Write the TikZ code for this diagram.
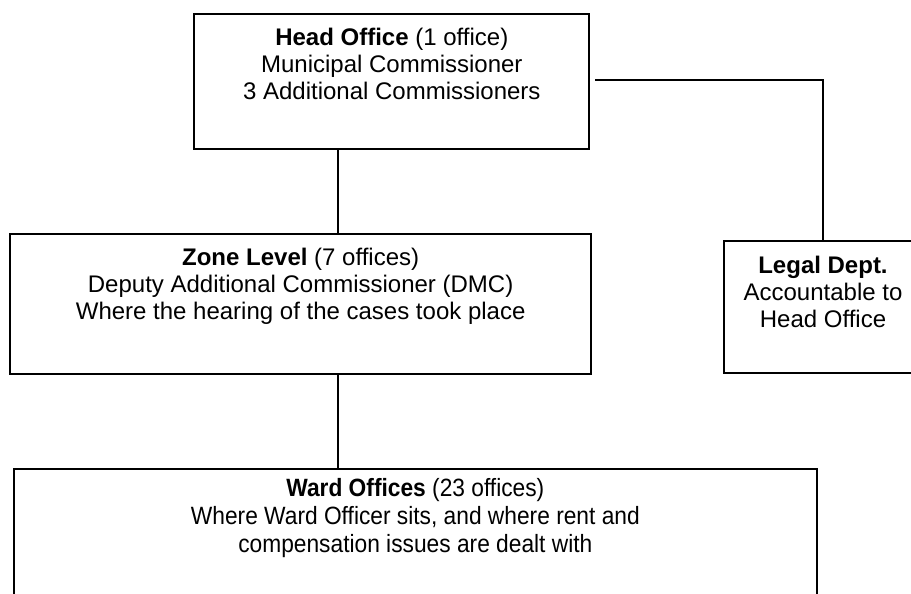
\documentclass[tikz,border=0pt]{standalone}
\usepackage{fontspec}
\setmainfont{Liberation Sans}
\begin{document}
\begin{tikzpicture}[x=1pt,y=-1pt,
  box/.style={draw, line width=2pt, inner sep=0pt, anchor=north west,
    font=\fontsize{24}{27}\selectfont},
  wardfont/.style={font=\fontsize{25}{28}\selectfont\addfontfeature{FakeStretch=0.91}},
  conn/.style={line width=2pt}]
\useasboundingbox (0,0) rectangle (911,594);
\clip (0,0) rectangle (911,594);
\node[box] (head) at (193.3,12.7) {\parbox[c][135.6pt][t]{395pt}{\centering\rule{0pt}{32pt}\textbf{Head Office} (1 office)\\Municipal Commissioner\\3 Additional Commissioners}};
\node[box] (zone) at (9.3,232.7) {\parbox[c][140pt][t]{580.7pt}{\centering\rule{0pt}{32pt}\textbf{Zone Level} (7 offices)\\Deputy Additional Commissioner (DMC)\\Where the hearing of the cases took place}};
\node[box] (legal) at (723,240) {\parbox[c][131.7pt][t]{198pt}{\centering\rule{0pt}{32pt}\textbf{Legal Dept.}\\Accountable to\\Head Office}};
\node[box, wardfont] (ward) at (12.7,468) {\parbox[c][150pt][t]{803.3pt}{\centering\rule{0pt}{27pt}\textbf{Ward Offices} (23 offices)\\Where Ward Officer sits, and where rent and\\compensation issues are dealt with}};
\draw[conn] ([xshift=144.4pt]head.south west) -- ([xshift=328.4pt]zone.north west);
\draw[conn] ([xshift=328.4pt]zone.south west) -- ([xshift=325pt]ward.north west);
\draw[conn] ([xshift=5pt,yshift=1.5pt]head.east) -| (legal.north);
\end{tikzpicture}
\end{document}
